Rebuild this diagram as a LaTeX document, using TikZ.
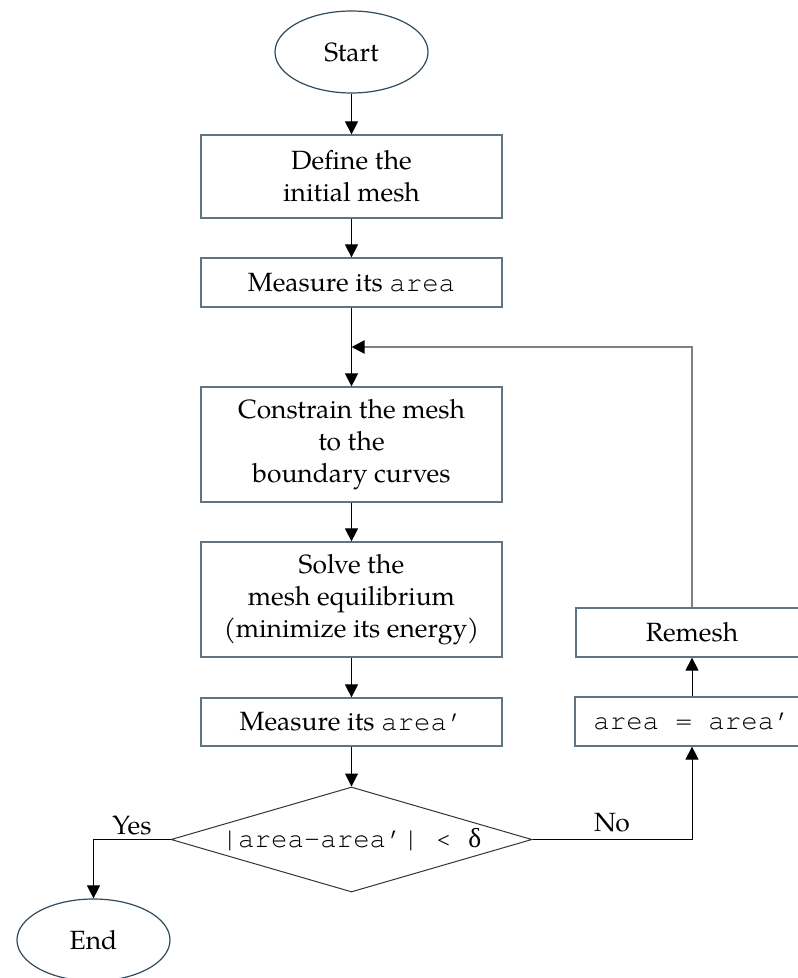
\documentclass[tikz,border=0pt]{standalone}
\usepackage{fontspec}
\setmainfont{TeX Gyre Pagella}
\setmonofont{TeX Gyre Cursor}
\newfontfamily\grk{Liberation Serif}
\usetikzlibrary{arrows.meta,shapes.geometric}
\definecolor{boxc}{HTML}{5F7483}
\definecolor{ellc}{HTML}{2F4B5E}
\newcommand\mycode[1]{{\fontsize{13.7}{16}\selectfont\ttfamily #1}}
\begin{document}
\begin{tikzpicture}[x=0.5pt,y=-0.5pt,
 every node/.style={font=\fontsize{13.2}{16}\selectfont, align=center, inner sep=0pt},
 stepbox/.style={draw=boxc, line width=0.6pt, minimum width=150.5pt},
 term/.style={ellipse, draw=ellc, line width=0.6pt, minimum width=76.5pt, minimum height=41pt},
 decide/.style={diamond, draw=black!80, line width=0.5pt, shape aspect=3.44, minimum width=180.5pt, minimum height=52.5pt},
 arr/.style={-{Triangle[length=6.5pt,width=6.5pt]}, line width=0.5pt},
 back/.style={line width=1pt, draw=gray, -{Triangle[length=6.5pt,width=6.5pt,color=black]}}
]
\useasboundingbox (0,0) rectangle (797,978);
\node[term] (start) at (351.5,52) {Start};
\node[stepbox, minimum height=41.5pt] (b1) at (351.5,176.5) {Define the\\initial mesh};
\node[stepbox, minimum height=24.5pt] (b2) at (351.5,282.5) {Measure its \mycode{area}};
\node[stepbox, minimum height=57.5pt] (b3) at (351.5,444.5) {Constrain the mesh\\to the\\boundary curves};
\node[stepbox, minimum height=57.5pt] (b4) at (351.5,599.5) {Solve the\\mesh equilibrium\\(minimize its energy)};
\node[stepbox, minimum height=24pt] (b5) at (351.5,722) {Measure its \mycode{area’}};
\node[decide] (dec) at (351.5,839.5) {\mycode{|area-area’| < {\grk δ}}};
\node[term] (end) at (93.5,940) {End};
\node[stepbox, minimum width=116pt, minimum height=24.5pt] (remesh) at (692,632.5) {Remesh};
\node[stepbox, minimum width=117pt, minimum height=24.5pt] (upd) at (692,721.5) {\mycode{area = area’}};
\coordinate (join) at (351.5,347);
\coordinate (corner) at (692,347);
\coordinate (yesc) at (93.5,839.5);
\coordinate (noc) at (692,839.5);
\draw[arr] (start) -- (b1);
\draw[arr] (b1) -- (b2);
\draw[arr] (b2) -- (b3);
\draw[arr] (b3) -- (b4);
\draw[arr] (b4) -- (b5);
\draw[arr] (b5) -- (dec);
\draw[arr] (dec.west) -- (yesc) -- (end);
\draw[arr] (dec.east) -- (noc) -- (upd);
\draw[arr] (upd) -- (remesh);
\draw[back] (remesh) -- (corner) -- (join);
\node (yes) at (132,825) {Yes};
\node (no) at (612,823) {No};
\end{tikzpicture}
\end{document}
